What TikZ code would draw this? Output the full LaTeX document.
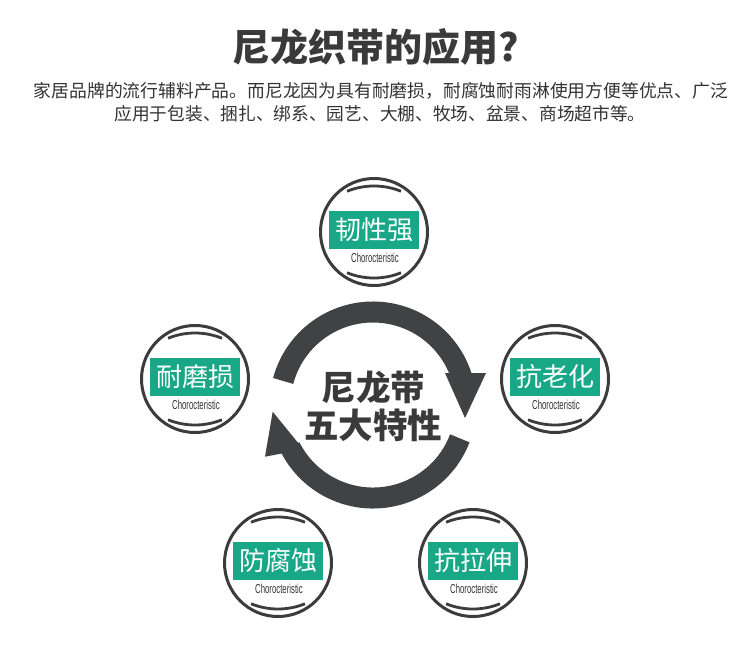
\documentclass[tikz,border=0pt]{standalone}
\usepackage{fontspec}
\usepackage{graphicx}
\newfontfamily\cjk{Noto Sans CJK SC}
\newfontfamily\latinsf{Liberation Sans}
\definecolor{ringc}{RGB}{64,66,68}
\definecolor{titlec}{RGB}{58,58,58}
\definecolor{textc}{RGB}{51,51,51}
\definecolor{circc}{RGB}{60,60,60}
\definecolor{tealc}{RGB}{25,168,135}
\tikzset{
  ring/.style={draw=ringc, line width=21pt, line cap=butt},
  circline/.style={draw=circc, line width=3pt},
  featbox/.style={fill=tealc, minimum width=90pt, minimum height=38pt, inner sep=0pt,
    text=white, font=\cjk\fontsize{26}{26}\selectfont},
  charlabel/.style={inner sep=0pt, text=textc},
  feat/.pic={
    \draw[circline] (0,0) circle (53.5);
    \draw[circline, line width=2.8pt] ([shift={(0,26)}]248:72) arc (248:292:72);
    \draw[circline, line width=2.8pt] ([shift={(0,-26)}]68:72) arc (68:112:72);
    \node[featbox] (-box) at (0,-2) {#1};
    \node[charlabel] (-sub) at (1,25.5) {\scalebox{0.6}[1]{\latinsf\fontsize{13}{13}\selectfont Chorocteristic}};
  }
}
\begin{document}
\begin{tikzpicture}[x=1pt,y=-1pt]
\useasboundingbox (0,0) rectangle (750,665);
\fill[white] (0,0) rectangle (750,665);
% title and subtitle
\node[text=titlec, font=\cjk\bfseries\fontsize{38}{38}\selectfont] (title) at (376,47) {尼龙织带的应用?};
\node[text=textc, font=\cjk\fontsize{17.8}{17.8}\selectfont, inner sep=0pt] (sub1) at (381,91) {家居品牌的流行辅料产品。而尼龙因为具有耐磨损，耐腐蚀耐雨淋使用方便等优点、广泛};
\node[text=textc, font=\cjk\fontsize{17.7}{17.7}\selectfont, inner sep=0pt] (sub2) at (380,114) {应用于包装、捆扎、绑系、园艺、大棚、牧场、盆景、商场超市等。};
% central cycle
\draw[ring] ([shift={(373,405)}]195:93) arc (195:345:93);
\draw[ring] ([shift={(373,405)}]21:93) arc (21:153:93);
\fill[ringc] (445,373) -- (486,373) -- (465,418) -- cycle;
\fill[ringc] (265,456.7) -- (303.3,449.3) -- (272.7,411.7) -- cycle;
\node[text=titlec, font=\cjk\bfseries\fontsize{34.5}{34.5}\selectfont, inner sep=0pt] (c1) at (373.5,387) {尼龙带};
\node[text=titlec, font=\cjk\bfseries\fontsize{34.5}{34.5}\selectfont, inner sep=0pt] (c2) at (373,425) {五大特性};
% features
\pic (f1) at (374,232) {feat=韧性强};
\pic (f2) at (195,379) {feat=耐磨损};
\pic (f3) at (555,379) {feat=抗老化};
\pic (f4) at (278,563) {feat=防腐蚀};
\pic (f5) at (473,563) {feat=抗拉伸};
\end{tikzpicture}
\end{document}
